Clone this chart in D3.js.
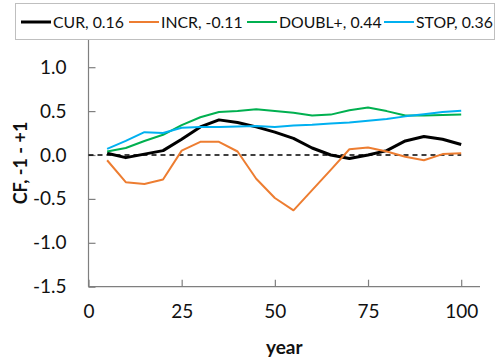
<!DOCTYPE html>
<html>
<head>
<meta charset="utf-8">
<script src="https://cdn.jsdelivr.net/npm/d3@7"></script>
<style>
  html, body { margin: 0; padding: 0; background: #fff; }
  svg { display: block; font-family: "Lato", "Open Sans", sans-serif; }
</style>
</head>
<body>
<svg id="chart" width="497" height="363"></svg>
<script>
// Simulation years (every 5 years)
const years = [5, 10, 15, 20, 25, 30, 35, 40, 45, 50, 55, 60, 65, 70, 75, 80, 85, 90, 95, 100];

// CF values per scenario
const cur   = [0.02, -0.03, 0.01, 0.05, 0.18, 0.32, 0.40, 0.37, 0.32, 0.26, 0.19, 0.08, 0.00, -0.04, 0.00, 0.05, 0.16, 0.21, 0.18, 0.12];
const incr  = [-0.06, -0.31, -0.33, -0.28, 0.05, 0.15, 0.15, 0.04, -0.27, -0.49, -0.63, -0.40, -0.17, 0.065, 0.085, 0.04, -0.02, -0.06, 0.01, 0.02];
const doubl = [0.04, 0.08, 0.16, 0.23, 0.34, 0.43, 0.49, 0.50, 0.52, 0.50, 0.48, 0.45, 0.46, 0.51, 0.54, 0.50, 0.45, 0.45, 0.455, 0.46];
const stop  = [0.07, 0.16, 0.26, 0.25, 0.31, 0.32, 0.32, 0.325, 0.33, 0.32, 0.335, 0.345, 0.36, 0.37, 0.39, 0.41, 0.44, 0.465, 0.49, 0.505];

const seriesNames = ["CUR, 0.16", "INCR, -0.11", "DOUBL+, 0.44", "STOP, 0.36"];
const xTicks = [0, 25, 50, 75, 100];
const yTicks = [-1.5, -1.0, -0.5, 0.0, 0.5, 1.0];

const series = [
  { name: seriesNames[0], values: cur,   color: "#000000", width: 3 },
  { name: seriesNames[1], values: incr,  color: "#ED7D31", width: 2 },
  { name: seriesNames[2], values: doubl, color: "#00B050", width: 2 },
  { name: seriesNames[3], values: stop,  color: "#00B0F0", width: 2 }
];

const svg = d3.select("#chart");
const plotLeft = 88.5, plotRight = 480, plotTop = 23.3, plotBottom = 286.7;

const x = d3.scaleLinear().domain([0, 105]).range([plotLeft, plotLeft + 372.7 * 1.05]);
const y = d3.scaleLinear().domain([-1.5, 1.5]).range([plotBottom, plotTop]);

const axisColor = "#7f7f7f";

// X axis with inward ticks
const gx = svg.append("g").attr("transform", `translate(0,${plotBottom})`)
  .call(d3.axisBottom(x).tickValues(xTicks).tickSize(-7).tickSizeOuter(0).tickPadding(18)
    .tickFormat(d => String(d)));
gx.select(".domain").attr("stroke", axisColor).attr("stroke-width", 1.2).attr("d", `M${plotLeft},0H${plotRight}`);
gx.selectAll(".tick line").attr("stroke", axisColor).attr("stroke-width", 1.2);
gx.selectAll(".tick text").attr("font-size", 19).attr("fill", "#111").attr("font-family", "Lato, sans-serif");

// Y axis with inward ticks (plain hyphen for negatives)
const gy = svg.append("g").attr("transform", `translate(${plotLeft},0)`)
  .call(d3.axisLeft(y).tickValues(yTicks).tickSize(-7).tickSizeOuter(0).tickPadding(22)
    .tickFormat(d => d.toFixed(1)));
gy.select(".domain").attr("stroke", axisColor).attr("stroke-width", 1.2).attr("d", `M0,${plotTop}V${plotBottom}`);
gy.selectAll(".tick line").attr("stroke", axisColor).attr("stroke-width", 1.2);
gy.selectAll(".tick text").attr("font-size", 19).attr("fill", "#111").attr("font-family", "Lato, sans-serif");

// Zero reference line
svg.append("line")
  .attr("x1", x(0)).attr("x2", x(100))
  .attr("y1", y(0)).attr("y2", y(0))
  .attr("stroke", "#000").attr("stroke-width", 1.5)
  .attr("stroke-dasharray", "5,4");

// Scenario lines
const line = d3.line().x((d, i) => x(years[i])).y(d => y(d));
series.forEach(s => {
  svg.append("path")
    .datum(s.values)
    .attr("d", line)
    .attr("fill", "none")
    .attr("stroke", s.color)
    .attr("stroke-width", s.width)
    .attr("stroke-linejoin", "round");
});

// Axis titles
svg.append("text")
  .attr("x", (plotLeft + plotRight) / 2).attr("y", 354)
  .attr("text-anchor", "middle")
  .attr("font-size", 19).attr("font-weight", "bold").attr("fill", "#111")
  .text("year");

svg.append("text")
  .attr("transform", `translate(27,${(plotTop + plotBottom) / 2 + 8}) rotate(-90)`)
  .attr("text-anchor", "middle")
  .attr("font-size", 18).attr("font-weight", "bold").attr("fill", "#111")
  .text("CF, -1 - +1");

// Legend box
const legend = svg.append("g");
legend.append("rect")
  .attr("x", 15.5).attr("y", 3.5).attr("width", 479).attr("height", 36)
  .attr("fill", "#fff").attr("stroke", "#bfbfbf").attr("stroke-width", 1);

const legendX = [21, 129, 247, 384];
series.forEach((s, i) => {
  const lx = legendX[i];
  legend.append("line")
    .attr("x1", lx).attr("x2", lx + 30)
    .attr("y1", 22).attr("y2", 22)
    .attr("stroke", s.color).attr("stroke-width", s.width);
  legend.append("text")
    .attr("x", lx + 32).attr("y", 27.5)
    .attr("font-size", 15.8).attr("fill", "#111")
    .text(s.name);
});
</script>
</body>
</html>
